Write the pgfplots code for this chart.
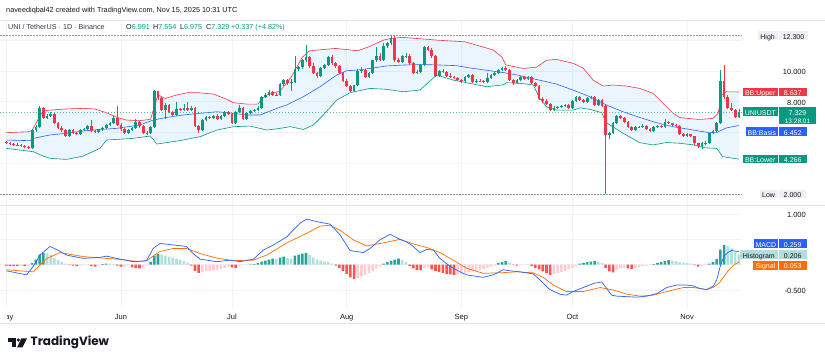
\documentclass[border=0pt]{standalone}
\usepackage{fontspec}
\setmainfont{Liberation Sans}
\newfontfamily\logofont{Poppins}
\usepackage{pgfplots}
\pgfplotsset{compat=1.18}
\usepackage{pgfplotstable}

\definecolor{upc}{HTML}{089981}
\definecolor{dnc}{HTML}{F23645}
\definecolor{bbmid}{HTML}{2962FF}
\definecolor{bbfill}{HTML}{2196F3}
\definecolor{sigc}{HTML}{FF6D00}
\definecolor{hA}{HTML}{26A69A}
\definecolor{hB}{HTML}{B2DFDB}
\definecolor{hC}{HTML}{FFCDD2}
\definecolor{hD}{HTML}{FF5252}
\definecolor{gridc}{HTML}{F0F3FA}
\definecolor{txt}{HTML}{131722}
\definecolor{lblg}{HTML}{EEF0F4}
\definecolor{linec}{HTML}{E0E3EB}
\definecolor{hl}{HTML}{9598A1}

\newcommand{\fs}[1]{\fontsize{#1}{#1}\selectfont}

% up candles: day open high low close
\pgfplotstableread{
d o h l c
7 4.98 6.22 4.95 6.15
8 6.15 6.50 6.05 6.38
9 6.38 7.75 6.30 7.57
11 6.95 7.20 6.88 7.10
12 7.10 7.32 7.00 7.20
17 5.80 6.22 5.75 6.15
20 5.92 6.20 5.88 6.15
21 6.15 6.30 6.08 6.22
22 6.22 6.48 6.15 6.40
25 6.02 6.25 5.98 6.20
26 6.20 6.38 6.12 6.30
27 6.30 6.58 6.25 6.50
28 6.50 6.70 6.42 6.62
29 6.62 7.05 6.55 6.95
33 6.00 6.22 5.95 6.15
34 6.15 6.35 6.08 6.30
35 6.30 6.85 6.25 6.68
39 5.95 6.45 5.90 6.38
40 6.38 8.75 6.30 8.68
43 7.45 7.90 6.85 7.80
46 7.15 8.00 7.10 7.55
48 7.45 7.85 7.40 7.60
50 7.45 7.70 7.40 7.62
53 6.18 6.88 6.12 6.80
54 6.80 7.05 6.72 6.98
56 6.95 7.15 6.90 7.10
58 6.90 7.15 6.85 7.10
59 7.10 7.42 7.05 7.35
62 6.60 7.40 6.55 7.35
63 7.35 7.82 7.30 7.60
65 6.88 7.35 6.82 7.30
66 7.30 7.48 7.25 7.40
67 7.40 7.52 7.35 7.45
68 7.45 7.70 7.40 7.62
69 7.62 8.38 7.58 8.30
70 8.30 8.55 8.22 8.45
71 8.45 8.75 8.40 8.65
74 8.42 9.25 8.38 9.15
75 9.15 9.48 9.05 9.40
77 9.20 9.50 8.70 9.30
78 9.30 10.98 9.25 10.10
79 10.10 10.35 10.00 10.25
80 10.25 10.78 10.15 10.70
81 10.70 11.69 10.60 10.90
85 9.67 10.25 9.60 10.20
86 10.20 10.48 10.10 10.40
87 10.40 11.00 10.35 10.93
94 8.72 9.12 8.62 9.07
95 9.07 10.10 9.00 10.02
96 10.02 10.25 9.90 10.06
98 9.63 9.92 9.55 9.85
99 9.85 10.75 9.80 10.70
100 10.70 11.58 10.62 10.95
102 10.75 11.80 10.70 11.60
103 11.60 11.90 11.50 11.80
104 11.80 12.25 11.70 12.15
107 10.60 11.05 10.55 10.96
108 10.96 11.15 10.85 11.00
111 9.89 10.05 9.78 9.95
112 9.95 10.45 9.88 10.40
113 10.40 11.62 10.35 11.58
117 9.67 10.08 9.60 10.00
124 9.35 9.70 9.30 9.63
125 9.63 9.82 9.58 9.74
127 9.30 9.45 9.25 9.37
130 9.30 9.85 9.25 9.52
131 9.52 9.80 9.48 9.74
132 9.74 9.95 9.68 9.89
133 9.89 10.12 9.82 10.06
134 10.06 10.28 10.00 10.20
138 9.20 9.48 9.15 9.41
139 9.41 9.65 9.35 9.59
141 9.46 9.65 9.40 9.59
148 7.46 7.70 7.38 7.62
149 7.62 7.75 7.55 7.68
150 7.68 7.82 7.62 7.75
151 7.75 7.85 7.68 7.79
153 7.62 8.12 7.58 8.07
154 8.07 8.40 8.02 8.33
157 8.00 8.28 7.95 8.22
158 8.22 8.40 8.15 8.33
160 7.79 8.15 7.72 8.11
163 5.84 6.02 5.60 5.95
164 5.95 6.68 5.90 6.60
165 6.60 7.15 6.55 7.07
170 6.16 6.40 6.10 6.33
171 6.33 6.45 6.28 6.38
172 6.38 6.55 6.32 6.42
175 6.10 6.45 6.05 6.38
176 6.38 6.52 6.32 6.45
178 6.38 6.85 6.32 6.70
184 5.80 5.95 5.75 5.88
188 5.10 5.38 4.90 5.30
189 5.30 5.45 5.22 5.35
190 5.35 6.00 5.30 5.95
191 5.95 6.18 5.88 6.10
192 6.10 6.68 6.02 6.60
193 6.60 10.06 6.55 9.35
198 6.991 7.554 6.975 7.329
}\tabupc

% down candles: day open high low close
\pgfplotstableread{
d o h l c
0 5.40 5.48 5.30 5.33
1 5.33 5.40 5.22 5.28
2 5.28 5.35 5.18 5.22
3 5.22 5.30 5.12 5.20
4 5.20 5.26 5.06 5.12
5 5.12 5.20 5.00 5.08
6 5.08 5.15 4.92 4.98
10 7.57 7.65 6.85 6.95
13 7.20 7.28 6.55 6.62
14 6.62 6.70 6.22 6.30
15 6.30 6.40 6.05 6.15
16 6.15 6.22 5.72 5.80
18 6.15 6.25 5.88 5.95
19 5.95 6.05 5.85 5.92
23 6.40 6.80 6.02 6.08
24 6.08 6.15 5.95 6.02
30 6.95 7.70 6.45 6.52
31 6.52 6.60 6.12 6.20
32 6.20 6.28 5.92 6.00
36 6.68 6.75 6.32 6.40
37 6.40 6.48 5.92 6.00
38 6.00 6.08 5.85 5.95
41 8.68 8.72 8.10 8.22
42 8.22 8.30 7.38 7.45
44 7.80 7.88 7.28 7.35
45 7.35 7.42 7.08 7.15
47 7.55 7.62 7.38 7.45
49 7.60 8.00 7.38 7.45
51 7.62 7.68 6.35 6.40
52 6.40 6.48 5.95 6.18
55 6.98 7.05 6.85 6.95
57 7.10 7.18 6.85 6.90
60 7.35 7.40 7.15 7.20
61 7.20 7.25 6.55 6.60
64 7.60 7.65 6.82 6.88
72 8.65 8.72 8.38 8.45
73 8.45 8.55 8.35 8.42
76 9.40 9.45 9.10 9.20
82 10.90 10.98 10.20 10.30
83 10.30 10.55 9.80 9.85
84 9.85 9.95 9.55 9.67
88 10.93 11.05 10.42 10.50
89 10.50 10.60 10.20 10.30
90 10.30 10.38 9.82 9.89
91 9.89 9.95 9.30 9.37
92 9.37 9.45 8.95 9.02
93 9.02 9.10 8.65 8.72
97 10.06 10.15 9.55 9.63
101 10.95 11.20 10.68 10.75
105 12.15 12.30 10.62 10.70
106 10.70 10.85 10.50 10.60
109 11.00 11.08 10.42 10.50
110 10.50 10.58 9.82 9.89
114 11.58 11.65 11.30 11.40
115 11.40 11.48 10.88 10.96
116 10.96 11.02 9.60 9.67
118 10.00 10.10 9.88 9.95
119 9.95 10.02 9.58 9.65
120 9.65 9.85 9.55 9.60
121 9.60 9.70 9.48 9.55
122 9.55 9.62 9.35 9.41
123 9.41 9.50 9.25 9.35
126 9.74 9.80 9.25 9.30
128 9.37 9.45 9.28 9.33
129 9.33 9.42 9.25 9.30
135 10.20 10.30 9.98 10.05
136 10.05 10.10 9.35 9.40
137 9.40 9.48 9.12 9.20
140 9.59 9.68 9.40 9.46
142 9.59 9.65 9.15 9.20
143 9.20 9.28 8.95 9.02
144 9.02 9.10 8.10 8.15
145 8.15 8.30 7.95 8.05
146 8.05 8.18 7.80 7.85
147 7.85 7.95 7.40 7.46
152 7.79 7.85 7.55 7.62
155 8.33 8.40 8.05 8.11
156 8.11 8.18 7.92 8.00
159 8.33 8.40 7.72 7.79
161 8.11 8.20 7.70 7.75
162 7.75 7.85 2.00 5.84
166 7.07 7.12 6.85 6.92
167 6.92 6.98 6.65 6.70
168 6.70 6.75 6.32 6.38
169 6.38 6.45 6.10 6.16
173 6.42 6.48 6.20 6.25
174 6.25 6.32 6.05 6.10
177 6.45 6.50 6.32 6.38
179 6.70 6.78 6.55 6.60
180 6.60 6.65 6.42 6.49
181 6.49 6.55 6.35 6.42
182 6.42 6.48 5.82 5.88
183 5.88 5.95 5.72 5.80
185 5.88 5.92 5.68 5.75
186 5.75 5.80 5.22 5.30
187 5.30 5.35 5.02 5.10
194 9.35 10.40 8.20 8.30
195 8.30 8.45 7.52 7.60
196 7.60 7.90 7.40 7.45
197 7.45 7.55 6.95 6.991
}\tabdnc

% Bollinger upper band
\pgfplotstableread{
x y
0 5.99
6 6.05
7 6.16
8 6.60
9.6 7.29
10.5 7.42
12 7.46
16 7.53
21 7.57
24 7.53
27 7.29
30 6.98
32.5 6.81
36 6.77
39 6.86
40 7.68
41 8.44
43 8.22
46 8.44
49 8.59
52 8.59
56 8.50
59.6 8.16
61.4 7.94
65 7.85
68 7.85
69 8.16
70.4 8.44
74 8.70
77 9.60
80 10.90
82 11.32
89 11.47
95 11.32
98 11.58
102 12.02
104 12.12
107 12.19
114 12.06
117 12.00
124 11.90
131.6 11.37
134 10.90
135 10.40
139.7 10.17
143.3 10.25
146 10.70
148.7 10.76
153.2 10.50
155.9 10.20
158.6 9.41
161.3 9.02
164 9.09
167.6 9.02
171.2 8.87
174.8 8.55
177.5 7.90
180.2 7.25
182 6.98
184 6.92
187.4 6.85
191 6.92
192.4 7.25
193.3 8.44
194.6 8.65
198 8.637
}\tabup

% Bollinger basis
\pgfplotstableread{
x y
0 5.51
6.4 5.47
7.3 5.62
11.8 5.84
16.3 5.95
20.8 6.10
25.3 6.20
29.8 6.27
36.1 6.49
39.7 6.81
43.3 6.98
47.8 7.14
52.4 7.25
56.9 7.35
61.4 7.25
65 7.14
68.6 7.14
71.3 7.40
74 7.65
75.8 7.79
80.3 8.33
84.8 8.98
89.3 9.74
92 10.02
94.7 10.06
98.3 10.17
102.8 10.33
107.3 10.39
111.8 10.42
116.3 10.40
121.7 10.35
125.3 10.20
129.8 10.05
134.3 9.90
137.9 9.75
143.3 9.45
147 9.25
148.7 9.15
153.2 8.76
157.7 8.33
162.2 7.79
166.7 7.35
171.2 6.98
175.7 6.64
180.2 6.38
184.7 6.20
189.2 6.02
191.9 5.99
194.6 6.30
198 6.452
}\tabmid

% Bollinger lower band
\pgfplotstableread{
x y
0 4.97
7.3 4.75
10 4.47
11.8 4.32
16.3 4.25
20.8 4.47
25.3 4.97
27.1 5.51
34.3 5.62
38.8 5.77
39.9 5.51
40.6 5.25
43.3 5.34
47.8 5.51
52.4 5.73
56.9 6.16
61.4 6.38
65.9 6.42
70.4 6.16
74 6.27
76.7 6.38
80.3 6.20
83 6.49
85.7 7.14
89.3 8.11
92.9 8.59
98.3 8.87
102.8 8.81
107.3 8.65
111.8 8.76
116.3 9.74
120.8 9.41
125.3 9.20
129.8 8.98
134.3 9.10
135.2 9.24
138.8 9.20
142.4 9.10
144.2 8.22
146 7.68
148.7 7.46
153.2 7.46
155 7.60
157.7 7.51
160.9 7.29
161.8 6.81
162.2 6.64
166.7 5.95
171.2 5.34
174.8 5.19
178.4 5.35
182 5.30
185.6 5.20
189 5.00
192 4.97
193.6 4.43
198 4.266
}\tablo

% band area: upper band forward, lower band backward
\pgfplotstableread{
x y
0 5.99
6 6.05
7 6.16
8 6.60
9.6 7.29
10.5 7.42
12 7.46
16 7.53
21 7.57
24 7.53
27 7.29
30 6.98
32.5 6.81
36 6.77
39 6.86
40 7.68
41 8.44
43 8.22
46 8.44
49 8.59
52 8.59
56 8.50
59.6 8.16
61.4 7.94
65 7.85
68 7.85
69 8.16
70.4 8.44
74 8.70
77 9.60
80 10.90
82 11.32
89 11.47
95 11.32
98 11.58
102 12.02
104 12.12
107 12.19
114 12.06
117 12.00
124 11.90
131.6 11.37
134 10.90
135 10.40
139.7 10.17
143.3 10.25
146 10.70
148.7 10.76
153.2 10.50
155.9 10.20
158.6 9.41
161.3 9.02
164 9.09
167.6 9.02
171.2 8.87
174.8 8.55
177.5 7.90
180.2 7.25
182 6.98
184 6.92
187.4 6.85
191 6.92
192.4 7.25
193.3 8.44
194.6 8.65
198 8.637
198 4.266
193.6 4.43
192 4.97
189 5.00
185.6 5.20
182 5.30
178.4 5.35
174.8 5.19
171.2 5.34
166.7 5.95
162.2 6.64
161.8 6.81
160.9 7.29
157.7 7.51
155 7.60
153.2 7.46
148.7 7.46
146 7.68
144.2 8.22
142.4 9.10
138.8 9.20
135.2 9.24
134.3 9.10
129.8 8.98
125.3 9.20
120.8 9.41
116.3 9.74
111.8 8.76
107.3 8.65
102.8 8.81
98.3 8.87
92.9 8.59
89.3 8.11
85.7 7.14
83 6.49
80.3 6.20
76.7 6.38
74 6.27
70.4 6.16
65.9 6.42
61.4 6.38
56.9 6.16
52.4 5.73
47.8 5.51
43.3 5.34
40.6 5.25
39.9 5.51
38.8 5.77
34.3 5.62
27.1 5.51
25.3 4.97
20.8 4.47
16.3 4.25
11.8 4.32
10 4.47
7.3 4.75
0 4.97
}\tabband

% MACD histogram, four colour groups
\pgfplotstableread{
d v
7 0.03
8 0.10
9 0.20
10 0.23
26 0.01
27 0.02
39 0.05
40 0.18
41 0.21
66 0.005
67 0.01
68 0.03
69 0.06
70 0.08
71 0.10
72 0.12
74 0.14
75 0.16
78 0.18
79 0.20
80 0.22
81 0.23
102 0.02
103 0.05
104 0.08
105 0.10
106 0.12
133 0.03
134 0.05
135 0.07
155 0.02
156 0.03
157 0.05
158 0.06
159 0.07
175 0.01
176 0.03
177 0.05
178 0.07
179 0.09
190 0.02
191 0.05
192 0.11
193 0.30
194 0.39
}\tabhA

\pgfplotstableread{
d v
11 0.22
12 0.19
13 0.13
14 0.09
15 0.05
16 0.02
28 0.02
29 0.01
42 0.20
43 0.18
44 0.16
45 0.14
46 0.12
47 0.10
48 0.07
49 0.04
73 0.11
76 0.13
77 0.12
82 0.19
83 0.14
84 0.10
85 0.08
86 0.06
87 0.05
88 0.02
107 0.10
108 0.05
136 0.04
160 0.05
161 0.03
180 0.08
181 0.07
182 0.05
183 0.04
184 0.03
185 0.02
195 0.36
196 0.32
197 0.26
198 0.206
}\tabhB

\pgfplotstableread{
d v
4 -0.03
6 -0.02
20 -0.02
21 -0.01
22 -0.01
25 -0.02
32 -0.04
33 -0.02
37 -0.05
38 -0.02
53 -0.14
54 -0.13
55 -0.12
56 -0.11
57 -0.10
58 -0.08
59 -0.06
60 -0.04
63 -0.03
64 -0.01
65 -0.01
95 -0.26
96 -0.22
97 -0.20
98 -0.16
99 -0.12
100 -0.07
101 -0.04
113 -0.06
114 -0.05
122 -0.19
123 -0.18
124 -0.16
125 -0.15
126 -0.13
127 -0.12
128 -0.10
129 -0.08
130 -0.06
131 -0.04
132 -0.02
139 -0.01
140 -0.01
141 -0.01
148 -0.19
149 -0.16
150 -0.14
151 -0.12
152 -0.09
153 -0.06
154 -0.03
165 -0.10
166 -0.07
167 -0.06
170 -0.06
171 -0.05
172 -0.03
173 -0.02
174 -0.01
188 -0.03
189 -0.01
}\tabhC

\pgfplotstableread{
d v
0 -0.02
1 -0.03
2 -0.03
3 -0.03
5 -0.03
17 -0.01
18 -0.02
19 -0.03
23 -0.03
24 -0.04
30 -0.02
31 -0.04
34 -0.05
35 -0.06
36 -0.07
50 -0.02
51 -0.12
52 -0.16
61 -0.05
62 -0.06
89 -0.02
90 -0.06
91 -0.12
92 -0.18
93 -0.25
94 -0.28
109 -0.03
110 -0.07
111 -0.10
112 -0.11
115 -0.09
116 -0.12
117 -0.14
118 -0.16
119 -0.18
120 -0.19
121 -0.20
137 -0.01
138 -0.02
142 -0.03
143 -0.06
144 -0.09
145 -0.13
146 -0.16
147 -0.20
162 -0.06
163 -0.13
164 -0.15
168 -0.07
169 -0.08
186 -0.01
187 -0.04
}\tabhD

\pgfplotstableread{
x y
0 -0.12
5.5 -0.20
7.3 -0.03
9.1 0.19
11.8 0.36
13.6 0.30
16.3 0.19
20.8 0.125
25.3 0.145
27.1 0.17
29.8 0.125
34.3 0.06
37.9 0.08
39.7 0.32
41.5 0.42
45.1 0.39
48.7 0.36
50.5 0.22
52.4 0.11
56.9 0.06
60.5 0.09
63.2 0.06
66.8 0.11
69.5 0.29
72.2 0.39
75.8 0.55
79.4 0.82
81.2 0.90
83.9 0.85
87.5 0.80
90.2 0.59
92.9 0.28
96.5 0.24
98.3 0.32
101 0.49
103.7 0.60
106.4 0.50
108.2 0.45
110 0.36
111.8 0.24
113.6 0.30
115.4 0.29
117.2 0.125
119.9 -0.03
122.6 -0.14
124.4 -0.20
128.9 -0.25
131.6 -0.20
134.3 -0.10
136.1 -0.12
138.8 -0.14
142.4 -0.18
144.2 -0.30
146.9 -0.49
149.6 -0.58
151.4 -0.60
153.2 -0.53
155.9 -0.45
158.7 -0.37
160.9 -0.34
162.3 -0.47
163.6 -0.60
165 -0.62
167.7 -0.63
170.4 -0.64
173.1 -0.62
175.8 -0.57
178.5 -0.45
181.2 -0.40
183.9 -0.40
185.7 -0.42
187.5 -0.47
189.3 -0.49
191.1 -0.42
192 -0.30
193 -0.02
194 0.17
195 0.24
196 0.28
197 0.27
198 0.259
}\tabmacd

\pgfplotstableread{
x y
0 -0.10
7.3 -0.14
10.9 0.12
14.5 0.24
20.8 0.16
29.8 0.11
36.1 0.06
37.9 0.08
41.5 0.26
45.1 0.32
48.7 0.32
52.4 0.22
56.9 0.13
61.4 0.08
66.8 0.09
70.4 0.19
75.8 0.43
81.2 0.62
84.8 0.76
87.5 0.78
90.2 0.68
93.8 0.49
97.4 0.37
101.9 0.43
106.4 0.50
110 0.41
113.6 0.34
117.2 0.24
120.8 0.09
124.4 -0.07
128.9 -0.17
133.4 -0.16
137.9 -0.14
142.4 -0.16
145.1 -0.25
147.8 -0.40
151.4 -0.53
155.9 -0.53
160.5 -0.45
164.1 -0.50
167.7 -0.58
171.3 -0.62
174.9 -0.60
178.5 -0.53
183 -0.45
185.7 -0.45
189.3 -0.49
191 -0.45
192 -0.40
193 -0.33
194 -0.23
195 -0.13
196 -0.05
197 0.01
198 0.053
}\tabsig

\pgfplotsset{tvaxis/.style={scale only axis, width=742pt, xmin=-1.7, xmax=198.84,
  axis line style={draw=none}, major tick length=0pt,
  xtick={0,31,61,92,123,153,184}, xticklabels={}, yticklabels={},
  grid=major, grid style={draw=gridc, line width=0.7pt}},
  wick/.style={only marks, mark=*, mark size=0pt, mark options={draw=none, fill=none}, forget plot,
    error bars/.cd, y dir=both, y explicit,
    error mark=none, error bar style={draw=#1, line width=0.7pt}},
  body/.style={only marks, mark=*, mark size=0pt, mark options={draw=none, fill=none}, forget plot,
    error bars/.cd, y dir=plus, y explicit,
    error mark=none, error bar style={draw=#1, line width=2.7pt}},
  hbar/.style={ybar, bar width=2.6pt, bar shift=0pt, fill=#1, draw=none, forget plot}}

\newcommand{\cell}[7]{%
  \fill[#5] (#1,{361-#3}) rectangle (#2,{361-#4});
  \node[lab, text=#6, font=\fs{7}] at ({(#1+#2)/2},{361-(#3+#4)/2}) {#7};}

\begin{document}
\begin{tikzpicture}[x=1pt,y=1pt, lab/.style={inner sep=0pt, text height=0.72em, text depth=0pt}]
\fill[white] (0,0) rectangle (825,361);

% ---------------- price pane ----------------
\begin{axis}[tvaxis, at={(0pt,156pt)}, anchor=south west, height=185pt,
  ymin=1.285, ymax=13.32, ytick={2,4,6,8,10,12}]
\addplot[fill=bbfill, fill opacity=0.09, draw=none, forget plot] table {\tabband} -- cycle;
\addplot[dnc, line width=0.6pt, forget plot] table {\tabup};
\addplot[bbmid, line width=0.6pt, forget plot] table {\tabmid};
\addplot[upc, line width=0.6pt, forget plot] table {\tablo};
\addplot[hl, line width=0.5pt, dash pattern=on 1.5pt off 1.5pt, forget plot] coordinates {(-1.7,12.3) (198.84,12.3)};
\addplot[hl, line width=0.5pt, dash pattern=on 1.5pt off 1.5pt, forget plot] coordinates {(-1.7,2.0) (198.84,2.0)};
\addplot[upc!70, line width=0.5pt, dash pattern=on 1pt off 2pt, forget plot] coordinates {(-1.7,7.329) (198.84,7.329)};
\addplot[wick=upc] table[x=d, y=o, y error plus expr={\thisrow{h}-\thisrow{o}}, y error minus expr={\thisrow{o}-\thisrow{l}}] {\tabupc};
\addplot[body=upc] table[x=d, y=o, y error plus expr={\thisrow{c}-\thisrow{o}}] {\tabupc};
\addplot[wick=dnc] table[x=d, y=c, y error plus expr={\thisrow{h}-\thisrow{c}}, y error minus expr={\thisrow{c}-\thisrow{l}}] {\tabdnc};
\addplot[body=dnc] table[x=d, y=c, y error plus expr={\thisrow{o}-\thisrow{c}}] {\tabdnc};
\end{axis}

% ---------------- MACD pane ----------------
\begin{axis}[tvaxis, at={(0pt,54pt)}, anchor=south west, height=102pt,
  ymin=-0.834, ymax=1.178, ytick={-0.5,0,0.5,1}]
\addplot[hbar=hA] table[x=d, y=v] {\tabhA};
\addplot[hbar=hB] table[x=d, y=v] {\tabhB};
\addplot[hbar=hC] table[x=d, y=v] {\tabhC};
\addplot[hbar=hD] table[x=d, y=v] {\tabhD};
\addplot[sigc, line width=0.7pt, forget plot] table {\tabsig};
\addplot[bbmid, line width=0.7pt, forget plot] table {\tabmacd};
\end{axis}

% separators
\draw[linec, line width=0.6pt] (0,{361-20.5}) -- (825,{361-20.5});
\draw[linec, line width=0.6pt] (0,{361-205}) -- (825,{361-205});
\draw[linec, line width=0.6pt] (0,{361-323.5}) -- (825,{361-323.5});

% header
\node[lab, anchor=west, font=\fs{7.3}, text=txt] at (6,{361-9.3}) {naveediqbal42 created with TradingView.com, Nov 15, 2025 10:31 UTC};
\node[lab, anchor=west, font=\fs{7.2}, text=txt!85] at (8,{361-25.5}) {UNI / TetherUS · 1D · Binance};
\node[lab, anchor=west, font=\fs{7.2}] at (126,{361-25.5}) {\textcolor{txt}{O}\textcolor{upc}{6.991}};
\node[lab, anchor=west, font=\fs{7.2}] at (153,{361-25.5}) {\textcolor{txt}{H}\textcolor{upc}{7.554}};
\node[lab, anchor=west, font=\fs{7.2}] at (180,{361-25.5}) {\textcolor{txt}{L}\textcolor{upc}{6.975}};
\node[lab, anchor=west, font=\fs{7.2}] at (206,{361-25.5}) {\textcolor{txt}{C}\textcolor{upc}{7.329}};
\node[lab, anchor=west, font=\fs{7.2}, text=upc] at (231,{361-25.5}) {+0.337 (+4.82\%)};

% scale labels
\foreach \v/\yy in {10.000/71, 8.000/101.75, 1.000/214, -0.500/290.05}
  \node[lab, anchor=east, font=\fs{7.5}, text=txt] at (806,{361-\yy}) {\v};

\cell{757.5}{777.7}{31.5}{39.7}{lblg}{txt}{High}
\cell{779}{808}{31.5}{39.7}{lblg}{txt}{12.300}
\cell{742.7}{777.7}{87.7}{96.2}{dnc}{white}{BB:Upper}
\cell{779}{806.5}{87.7}{96.2}{dnc}{white}{8.637}
\cell{743}{777.7}{107.3}{116.5}{upc}{white}{UNIUSDT}
\fill[upc] (779,{361-107.3}) rectangle (816,{361-124.5});
\node[lab, text=white, font=\fs{7}] at (797.5,{361-112}) {7.329};
\node[lab, text=white, font=\fs{6.5}] at (797.5,{361-120.4}) {13:28:01};
\cell{746}{777.7}{127.3}{135.8}{bbmid}{white}{BB:Basis}
\cell{779}{806.5}{127.3}{135.8}{bbmid}{white}{6.452}
\cell{742.7}{777.7}{155}{163.4}{upc}{white}{BB:Lower}
\cell{779}{806.5}{155}{163.4}{upc}{white}{4.266}
\cell{759.5}{777.7}{189.8}{197.8}{lblg}{txt}{Low}
\cell{779}{806}{189.8}{197.8}{lblg}{txt}{2.000}
\cell{754}{777.7}{239.3}{247.8}{bbmid}{white}{MACD}
\cell{779}{806.5}{239.3}{247.8}{bbmid}{white}{0.259}
\cell{740}{777.7}{250}{259}{hB}{txt}{Histogram}
\cell{779}{806.5}{250}{259}{hB}{txt}{0.206}
\cell{753.3}{777.7}{261}{269.8}{sigc}{white}{Signal}
\cell{779}{806.5}{261}{269.8}{sigc}{white}{0.053}

% time axis
\begin{scope}
\clip (7.8,30) rectangle (30,60);
\node[lab, font=\fs{7.5}, text=txt] at (6.3,{361-316}) {May};
\end{scope}
\foreach \m/\xx in {Jun/121, Jul/232, Aug/346.7, Sep/461.4, Oct/572.4, Nov/687.1}
  \node[lab, font=\fs{7.5}, text=txt] at (\xx,{361-316}) {\m};

% TradingView logo
\fill[txt] (8.3,{361-338.3}) rectangle (15.6,{361-341.6});
\fill[txt] (12.3,{361-338.3}) rectangle (15.6,{361-347.3});
\fill[txt] (18.4,{361-340.1}) circle (1.75);
\fill[txt] (21.4,{361-338.3}) -- (27,{361-338.3}) -- (22.6,{361-347.3}) -- (17.2,{361-347.3}) -- cycle;
\node[anchor=base west, inner sep=0pt, font=\logofont\bfseries\fs{12}, text=txt] at (30.5,15) {TradingView};

\pgfresetboundingbox
\path[use as bounding box] (0,0) rectangle (825,361);
\end{tikzpicture}
\end{document}
